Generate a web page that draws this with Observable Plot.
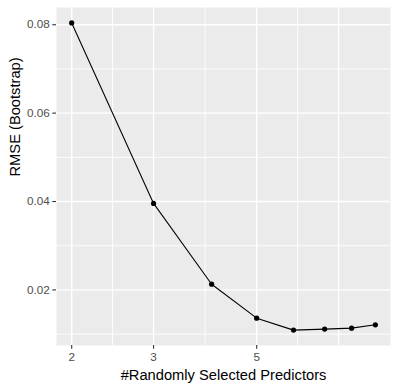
<!DOCTYPE html>
<html>
<head>
<meta charset="utf-8">
<script src="https://cdn.jsdelivr.net/npm/d3@7"></script>
<script src="https://cdn.jsdelivr.net/npm/@observablehq/plot@0.6"></script>
<style>
  html, body { margin: 0; padding: 0; background: #ffffff; }
</style>
</head>
<body>
<div id="chart"></div>
<script>
// Data
const mtry = [2, 3, 4, 5, 6, 7, 8, 9];
const rmse = [0.0804, 0.03957, 0.02129, 0.01361, 0.01090, 0.01113, 0.01135, 0.01210];

// Axis ticks and grid values
const xTickValues = [2, 3, 5];
const xMajorGrid = [2, 3, 5, 7.5];
const xMinorGrid = [2.449, 3.873, 6.124];
const yTickValues = [0.02, 0.04, 0.06, 0.08];
const yMinorGrid = [0.01, 0.03, 0.05, 0.07];

const xTitle = "#Randomly Selected Predictors";
const yTitle = "RMSE (Bootstrap)";

const data = mtry.map((m, i) => ({mtry: m, rmse: rmse[i]}));

const font = "'Liberation Sans', Arial, sans-serif";

const chart = Plot.plot({
  width: 398,
  height: 390,
  marginLeft: 56,
  marginRight: 8,
  marginTop: 7,
  marginBottom: 45,
  style: {fontFamily: font, background: "#ffffff", overflow: "visible"},
  x: {type: "log", domain: [1.855, 9.70]},
  y: {domain: [0.00742, 0.0839]},
  marks: [
    Plot.frame({fill: "#EBEBEB", stroke: null}),
    Plot.ruleX(xMinorGrid, {stroke: "#ffffff", strokeWidth: 0.9}),
    Plot.ruleY(yMinorGrid, {stroke: "#ffffff", strokeWidth: 0.9}),
    Plot.ruleX(xMajorGrid, {stroke: "#ffffff", strokeWidth: 1.4}),
    Plot.ruleY(yTickValues, {stroke: "#ffffff", strokeWidth: 1.4}),
    Plot.axisX({
      ticks: xTickValues,
      tickFormat: d => String(d),
      tickSize: 3.7,
      tickPadding: 3,
      stroke: "#333333",
      strokeWidth: 1.1,
      fill: "#4D4D4D",
      fontSize: 11.7,
      label: null
    }),
    Plot.axisY({
      ticks: yTickValues,
      tickFormat: d => d.toFixed(2),
      tickSize: 3.7,
      tickPadding: 3,
      stroke: "#333333",
      strokeWidth: 1.1,
      fill: "#4D4D4D",
      fontSize: 11.7,
      label: null
    }),
    Plot.line(data, {x: "mtry", y: "rmse", stroke: "#000000", strokeWidth: 1.07}),
    Plot.dot(data, {x: "mtry", y: "rmse", fill: "#000000", stroke: null, r: 2.6}),
    Plot.text([xTitle], {
      frameAnchor: "bottom",
      dy: 30,
      fontSize: 14.7,
      fill: "#000000",
      lineAnchor: "middle",
      text: d => d
    }),
    Plot.text([yTitle], {
      frameAnchor: "left",
      dx: -41,
      rotate: -90,
      fontSize: 14.7,
      fill: "#000000",
      lineAnchor: "middle",
      text: d => d
    })
  ]
});

document.getElementById("chart").appendChild(chart);
</script>
</body>
</html>
